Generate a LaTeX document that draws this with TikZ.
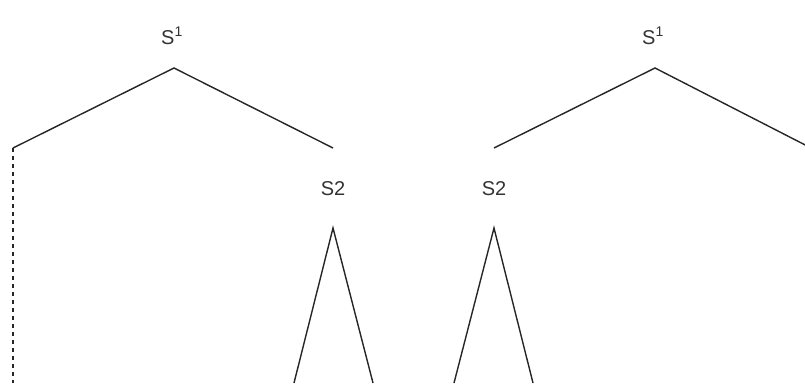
\documentclass[tikz,border=0pt]{standalone}
\usepackage{fontspec}
\setmainfont{Liberation Sans}
\begin{document}
\begin{tikzpicture}[x=1pt,y=-1pt,
  edge/.style={line width=1.4pt,draw=black!85},
  dashedge/.style={line width=1.4pt,draw=black!85,dash pattern=on 4pt off 4pt},
  lbl/.style={inner sep=0pt,text=black!80,font=\fontsize{20}{24}\selectfont}]
\useasboundingbox (0,0) rectangle (805,383);
\clip (0,0) rectangle (805,383);
% left tree
\coordinate (a1) at (174,68);
\coordinate (a1l) at (13,148);
\coordinate (a1r) at (333,148);
\coordinate (a1d) at (13,383);
\node[lbl] (s1a) at (172,36) {S\textsuperscript{1}};
\draw[edge] (a1l) -- (a1) -- (a1r);
\draw[dashedge] (a1l) -- (a1d);
% right tree
\coordinate (b1) at (655,68);
\coordinate (b1l) at (494,148);
\coordinate (b1r) at (815,150);
\node[lbl] (s1b) at (653,36) {S\textsuperscript{1}};
\draw[edge] (b1l) -- (b1) -- (b1r);
% S2 labels
\node[lbl] (s2a) at (333,189) {S2};
\node[lbl] (s2b) at (494,189) {S2};
% triangles
\coordinate (t1) at (333,228);
\coordinate (t1l) at (294,383);
\coordinate (t1r) at (373,383);
\coordinate (t2) at (494,228);
\coordinate (t2l) at (454,383);
\coordinate (t2r) at (533,383);
\draw[edge] (t1l) -- (t1) -- (t1r);
\draw[edge] (t2l) -- (t2) -- (t2r);
\end{tikzpicture}
\end{document}
